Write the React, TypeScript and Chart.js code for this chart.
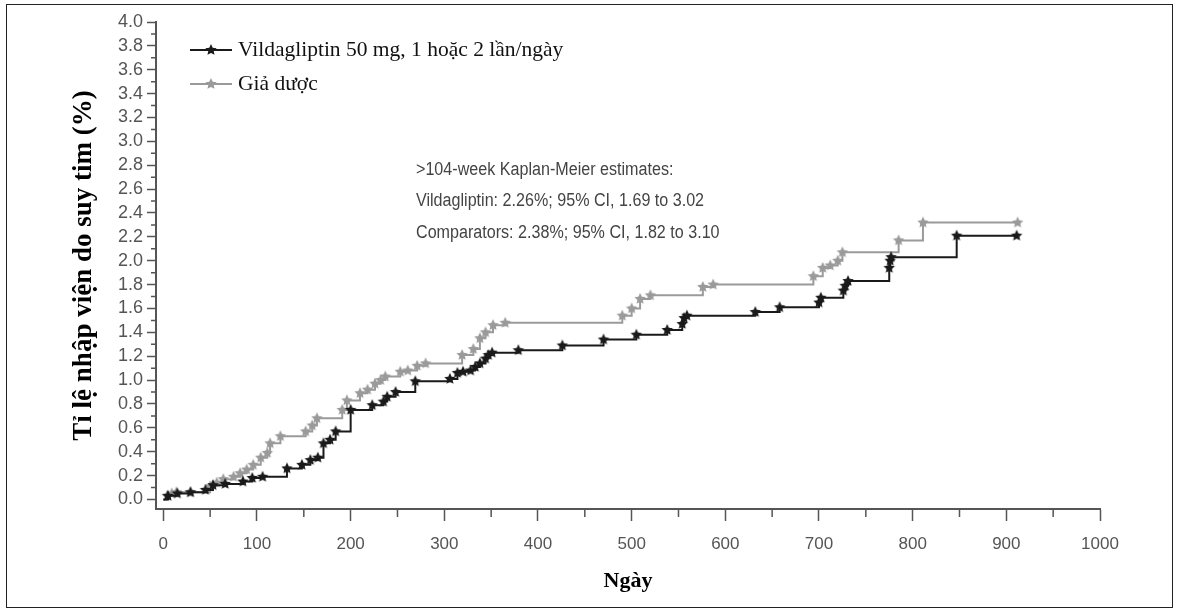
import React, { useEffect, useRef } from "react";
import { Chart, registerables } from "chart.js";

Chart.register(...registerables);

// ---------- data ----------
const xTicks = [0, 100, 200, 300, 400, 500, 600, 700, 800, 900, 1000];
const xMinorTicks = [50, 150, 250, 350, 450, 550, 650, 750, 850, 950];
const yTicks = [0, 0.2, 0.4, 0.6, 0.8, 1.0, 1.2, 1.4, 1.6, 1.8, 2.0, 2.2, 2.4, 2.6, 2.8, 3.0, 3.2, 3.4, 3.6, 3.8, 4.0];
const yMinorTicks = [0.1, 0.3, 0.5, 0.7, 0.9, 1.1, 1.3, 1.5, 1.7, 1.9, 2.1, 2.3, 2.5, 2.7, 2.9, 3.1, 3.3, 3.5, 3.7, 3.9];

const vildaDays = [0, 5, 15, 29, 45, 53, 66, 85, 95, 106, 132, 148, 157, 165, 171, 178, 184, 200, 223, 235, 239, 248, 269, 306, 314, 320, 328, 333, 338, 344, 347, 351, 379, 426, 470, 505, 538, 554, 556, 559, 632, 658, 700, 702, 726, 728, 731, 775, 776, 777, 847, 911];
const vildaRisk = [0, 0.03, 0.05, 0.06, 0.08, 0.12, 0.13, 0.15, 0.18, 0.19, 0.26, 0.29, 0.33, 0.35, 0.47, 0.5, 0.57, 0.75, 0.79, 0.82, 0.86, 0.9, 0.99, 1.01, 1.06, 1.07, 1.08, 1.11, 1.14, 1.18, 1.21, 1.23, 1.25, 1.29, 1.34, 1.38, 1.42, 1.47, 1.52, 1.54, 1.57, 1.61, 1.65, 1.69, 1.75, 1.79, 1.83, 1.94, 2.0, 2.03, 2.21, 2.21];

const placeboDays = [0, 4, 9, 14, 29, 50, 57, 64, 75, 82, 89, 96, 104, 111, 114, 125, 152, 159, 164, 191, 196, 210, 218, 226, 232, 237, 253, 261, 271, 280, 319, 331, 338, 344, 352, 365, 490, 500, 509, 520, 576, 587, 694, 704, 712, 720, 725, 785, 811, 912];
const placeboRisk = [0, 0.03, 0.05, 0.06, 0.06, 0.11, 0.14, 0.17, 0.19, 0.22, 0.25, 0.29, 0.35, 0.39, 0.47, 0.53, 0.57, 0.62, 0.68, 0.75, 0.83, 0.89, 0.92, 0.97, 1.0, 1.03, 1.07, 1.08, 1.12, 1.14, 1.21, 1.26, 1.35, 1.4, 1.46, 1.48, 1.54, 1.6, 1.68, 1.71, 1.78, 1.8, 1.87, 1.94, 1.96, 2.0, 2.07, 2.17, 2.32, 2.32];

const seriesNames = ["Vildagliptin 50 mg, 1 hoặc 2 lần/ngày", "Giả dược"];
const annotationLines = [
  ">104-week Kaplan-Meier estimates:",
  "Vildagliptin: 2.26%; 95% CI, 1.69 to 3.02",
  "Comparators: 2.38%; 95% CI, 1.82 to 3.10",
];
const yTitle = "Tỉ lệ nhập viện do suy tim (%)";
const xTitle = "Ngày";

// ---------- style ----------
const BLACK = "#1a1a1a";
const GRAY = "#9a9a9a";
const AXIS = "#555555";
const SANS = "'Liberation Sans', Arial, sans-serif";
const SERIF = "'Liberation Serif', 'Times New Roman', serif";

function makeStar(color: string, r: number): HTMLCanvasElement {
  const size = Math.ceil(r * 2 + 2);
  const c = document.createElement("canvas");
  c.width = size;
  c.height = size;
  const ctx = c.getContext("2d")!;
  const cx = size / 2;
  const cy = size / 2;
  ctx.beginPath();
  for (let i = 0; i < 10; i++) {
    const rad = i % 2 === 0 ? r : r * 0.48;
    const a = -Math.PI / 2 + (i * Math.PI) / 5;
    const px = cx + rad * Math.cos(a);
    const py = cy + rad * Math.sin(a);
    if (i === 0) ctx.moveTo(px, py);
    else ctx.lineTo(px, py);
  }
  ctx.closePath();
  ctx.fillStyle = color;
  ctx.fill();
  return c;
}

export default function App() {
  const ref = useRef<HTMLCanvasElement | null>(null);

  useEffect(() => {
    const canvas = ref.current;
    if (!canvas) return;
    const starBlack = makeStar(BLACK, 6);
    const starGray = makeStar(GRAY, 6);

    const decor = {
      id: "decor",
      afterDraw(chart: any) {
        const ctx = chart.ctx as CanvasRenderingContext2D;
        const xs = chart.scales.x;
        const ys = chart.scales.y;
        const area = chart.chartArea;
        ctx.save();
        // frame
        ctx.strokeStyle = "#222";
        ctx.lineWidth = 1;
        ctx.strokeRect(6.5, 4.5, 1166, 603);
        // minor ticks
        ctx.strokeStyle = AXIS;
        ctx.lineWidth = 1.5;
        ctx.beginPath();
        yMinorTicks.forEach((v) => {
          const py = ys.getPixelForValue(v);
          ctx.moveTo(area.left - 5, py);
          ctx.lineTo(area.left, py);
        });
        xMinorTicks.forEach((v) => {
          const px = xs.getPixelForValue(v);
          ctx.moveTo(px, area.bottom);
          ctx.lineTo(px, area.bottom + 8);
        });
        ctx.stroke();
        // legend
        const legendRows = [
          { y: 50, color: BLACK, star: starBlack, text: seriesNames[0] },
          { y: 84, color: GRAY, star: starGray, text: seriesNames[1] },
        ];
        legendRows.forEach((r) => {
          ctx.strokeStyle = r.color;
          ctx.lineWidth = 2;
          ctx.beginPath();
          ctx.moveTo(190, r.y);
          ctx.lineTo(232, r.y);
          ctx.stroke();
          ctx.drawImage(r.star, 211 - r.star.width / 2, r.y - r.star.height / 2);
          ctx.fillStyle = "#111";
          ctx.font = `21.5px ${SERIF}`;
          ctx.textBaseline = "middle";
          ctx.textAlign = "left";
          ctx.fillText(r.text, 238, r.y);
        });
        // annotation
        ctx.fillStyle = "#444";
        ctx.font = `18px ${SANS}`;
        ctx.textBaseline = "middle";
        const ay = [170, 201, 233];
        annotationLines.forEach((t, i) => {
          ctx.save();
          ctx.translate(416, ay[i]);
          ctx.scale(0.895, 1);
          ctx.fillText(t, 0, 0);
          ctx.restore();
        });
        ctx.restore();
      },
    };

    const chart = new Chart(canvas, {
      type: "line",
      data: {
        datasets: [
          {
            label: seriesNames[0],
            data: vildaDays.map((d, i) => ({ x: d, y: vildaRisk[i] })),
            borderColor: BLACK,
            borderWidth: 2,
            stepped: "before",
            pointStyle: vildaDays.map((_, i) => (i === 0 ? false : starBlack)) as any,
            pointRadius: 4,
            fill: false,
          },
          {
            label: seriesNames[1],
            data: placeboDays.map((d, i) => ({ x: d, y: placeboRisk[i] })),
            borderColor: GRAY,
            borderWidth: 2,
            stepped: "before",
            pointStyle: placeboDays.map((_, i) => (i === 0 ? false : starGray)) as any,
            pointRadius: 4,
            fill: false,
          },
        ],
      },
      options: {
        animation: false,
        responsive: false,
        devicePixelRatio: 1,
        layout: { padding: { left: 64, right: 80, top: 22, bottom: 12 } },
        plugins: {
          legend: { display: false },
          tooltip: { enabled: false },
        },
        scales: {
          x: {
            type: "linear",
            min: -7.8,
            max: 1000,
            afterBuildTicks: (s: any) => {
              s.ticks = xTicks.map((v) => ({ value: v }));
            },
            afterFit: (s: any) => {
              s.height = 90;
            },
            ticks: {
              autoSkip: false,
              maxRotation: 0,
              padding: 13,
              color: AXIS,
              font: { family: SANS, size: 17 },
              callback: (v: any) => String(v),
            },
            grid: {
              display: true,
              drawOnChartArea: false,
              drawTicks: true,
              tickLength: 12,
              tickColor: AXIS,
              tickWidth: 1.5,
            },
            border: { display: true, color: AXIS, width: 2 },
            title: {
              display: true,
              text: xTitle,
              color: "#000",
              font: { family: SERIF, size: 22, weight: "bold" },
              padding: { top: 4, bottom: 4 },
            },
          },
          y: {
            type: "linear",
            min: -0.08,
            max: 4.0,
            afterBuildTicks: (s: any) => {
              s.ticks = yTicks.map((v) => ({ value: v }));
            },
            afterFit: (s: any) => {
              s.width = 92;
            },
            ticks: {
              autoSkip: false,
              padding: 4,
              color: AXIS,
              font: { family: SANS, size: 18 },
              callback: (v: any) => Number(v).toFixed(1),
            },
            grid: {
              display: true,
              drawOnChartArea: false,
              drawTicks: true,
              tickLength: 9,
              tickColor: AXIS,
              tickWidth: 1.5,
            },
            border: { display: true, color: AXIS, width: 2 },
            title: {
              display: true,
              text: yTitle,
              color: "#000",
              font: { family: SERIF, size: 27, weight: "bold" },
              padding: { top: 4, bottom: 4 },
            },
          },
        },
      } as any,
      plugins: [decor],
    });

    return () => chart.destroy();
  }, []);

  return (
    <div style={{ position: "fixed", left: 0, top: 0, width: 1180, height: 611, background: "#fff" }}>
      <canvas ref={ref} width={1180} height={611} style={{ display: "block" }} />
    </div>
  );
}
